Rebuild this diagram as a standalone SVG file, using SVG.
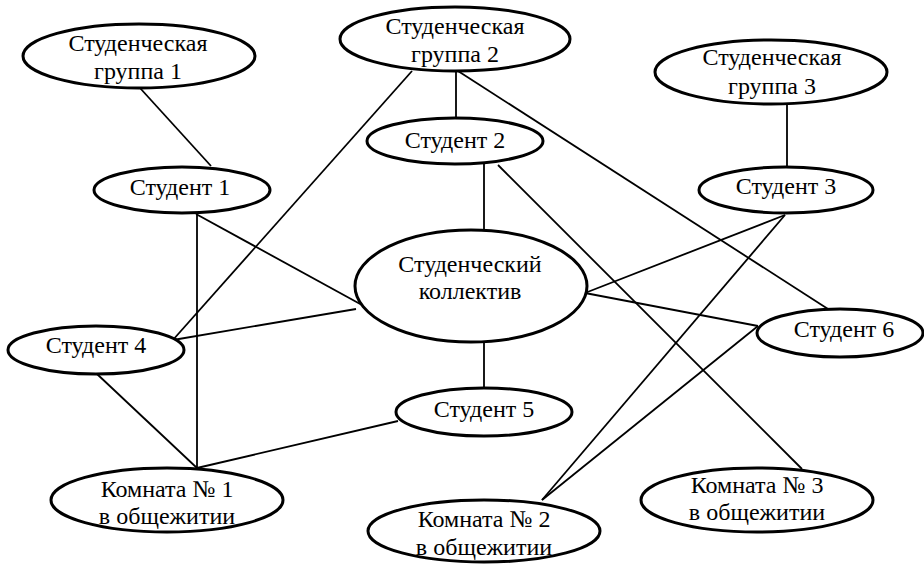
<svg xmlns="http://www.w3.org/2000/svg" width="924" height="564" viewBox="0 0 924 564">
<style>
.n ellipse{fill:#fff;stroke:#000;stroke-width:3}
.n text{font-family:'Liberation Serif','Times New Roman',serif;font-size:24px;fill:#000;text-anchor:middle}
#edges line{stroke:#000;stroke-width:1.8}
</style>
<rect width="924" height="564" fill="#fff"/>
<g id="edges">
<line x1="140" y1="88" x2="211" y2="166"/>
<line x1="456" y1="71" x2="456" y2="118"/>
<line x1="412" y1="71" x2="172" y2="341"/>
<line x1="458" y1="71" x2="828" y2="309"/>
<line x1="787" y1="103" x2="787" y2="167"/>
<line x1="484" y1="163" x2="484" y2="230"/>
<line x1="498" y1="165" x2="802" y2="469"/>
<line x1="197" y1="214" x2="197" y2="468"/>
<line x1="196" y1="214" x2="362" y2="305"/>
<line x1="173" y1="340" x2="356" y2="309"/>
<line x1="97" y1="374" x2="197" y2="468"/>
<line x1="398" y1="421" x2="197" y2="468"/>
<line x1="484" y1="342" x2="484" y2="388"/>
<line x1="785" y1="215" x2="585" y2="293"/>
<line x1="785" y1="215" x2="542" y2="500"/>
<line x1="585" y1="293" x2="758" y2="326"/>
<line x1="758" y1="326" x2="542" y2="500"/>
</g>
<g id="group1" class="n"><ellipse cx="139" cy="56" rx="116" ry="32"/><text x="138" y="51">Студенческая</text><text x="138" y="79">группа 1</text></g>
<g id="group2" class="n"><ellipse cx="455" cy="39" rx="115" ry="32"/><text x="455" y="34">Студенческая</text><text x="455" y="62">группа 2</text></g>
<g id="group3" class="n"><ellipse cx="771" cy="72" rx="116" ry="32"/><text x="772" y="65">Студенческая</text><text x="772" y="94">группа 3</text></g>
<g id="student1" class="n"><ellipse cx="182" cy="190" rx="88" ry="23"/><text x="180" y="195">Студент 1</text></g>
<g id="student2" class="n"><ellipse cx="455" cy="141" rx="88" ry="23"/><text x="455" y="148">Студент 2</text></g>
<g id="student3" class="n"><ellipse cx="786" cy="190" rx="87" ry="23"/><text x="786" y="194">Студент 3</text></g>
<g id="collective" class="n"><ellipse cx="471" cy="286" rx="116" ry="56"/><text x="470" y="272">Студенческий</text><text x="470" y="299">коллектив</text></g>
<g id="student4" class="n"><ellipse cx="96" cy="350" rx="88" ry="24"/><text x="96" y="353">Студент 4</text></g>
<g id="student5" class="n"><ellipse cx="484" cy="412" rx="88" ry="24"/><text x="484" y="417">Студент 5</text></g>
<g id="student6" class="n"><ellipse cx="840" cy="333" rx="83" ry="24"/><text x="844" y="337">Студент 6</text></g>
<g id="room1" class="n"><ellipse cx="167" cy="500" rx="116" ry="32"/><text x="167" y="497">Комната № 1</text><text x="167" y="524">в общежитии</text></g>
<g id="room2" class="n"><ellipse cx="484" cy="531" rx="116" ry="31"/><text x="484" y="527">Комната № 2</text><text x="484" y="555">в общежитии</text></g>
<g id="room3" class="n"><ellipse cx="757" cy="500" rx="116" ry="32"/><text x="757" y="493">Комната № 3</text><text x="757" y="520">в общежитии</text></g>
</svg>
